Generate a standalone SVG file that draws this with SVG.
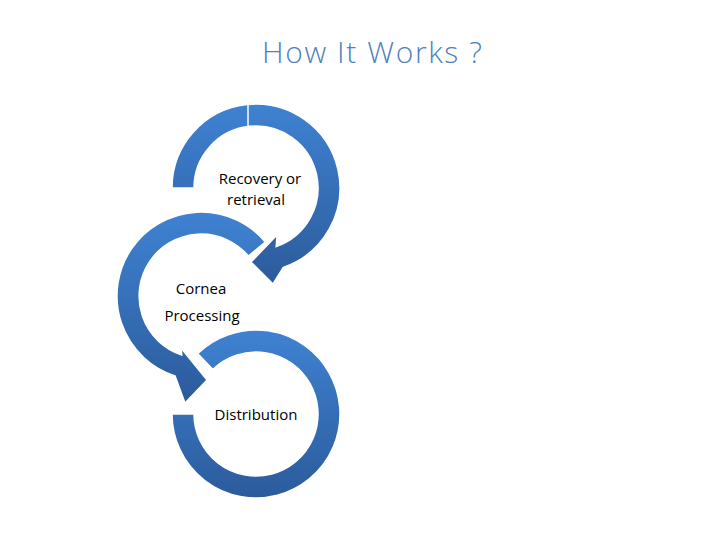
<svg xmlns="http://www.w3.org/2000/svg" width="720" height="540" viewBox="0 0 720 540">
<style>
.ring{stroke:#fff;stroke-width:1.5}
.lbl{font-family:"Open Sans","Liberation Sans",sans-serif;font-size:15px;fill:#000;text-anchor:middle}
</style>
<defs>
<linearGradient id="g1" gradientUnits="userSpaceOnUse" x1="0" y1="104" x2="0" y2="285"><stop offset="0" stop-color="#3f82d2"/><stop offset="1" stop-color="#2b5b9b"/></linearGradient>
<linearGradient id="g2" gradientUnits="userSpaceOnUse" x1="0" y1="212" x2="0" y2="403"><stop offset="0" stop-color="#3f82d2"/><stop offset="1" stop-color="#2b5b9b"/></linearGradient>
<linearGradient id="g3" gradientUnits="userSpaceOnUse" x1="0" y1="330" x2="0" y2="498"><stop offset="0" stop-color="#3f82d2"/><stop offset="1" stop-color="#2b5b9b"/></linearGradient>
</defs>
<rect width="720" height="540" fill="#fff"/>
<text x="372" y="63" font-family="'Open Sans','Liberation Sans',sans-serif" font-size="30" font-weight="300" fill="#4f81bd" text-anchor="middle" textLength="220">How It Works ?</text>
<g id="connectors">
<path id="ring3" class="ring" fill="url(#g3)" d="M172,414 A84,84 0 1 0 197.6,353.6 L212.9,369.4 A62,62 0 1 1 194,414 Z"/>
<path id="ring2" class="ring" fill="url(#g2)" d="M265.3,242 A84,84 0 1 0 175,375.9 L185,403 L207,380 L181,348 L181.8,355 A62,62 0 1 1 248.5,256.1 Z"/>
<path id="ring1" class="ring" fill="url(#g1)" d="M172,188 A84,84 0 1 1 283.3,267.4 L273,284 L251,262 L277,235 L276.2,246.6 A62,62 0 1 0 194,188 Z"/>
<line x1="248" y1="104" x2="248" y2="127" stroke="#fff" stroke-width="1.5"/>
</g>
<g id="recovery"><text class="lbl" x="260" y="184">Recovery or</text><text class="lbl" x="256" y="205">retrieval</text></g>
<g id="cornea"><text class="lbl" x="201" y="294">Cornea</text><text class="lbl" x="202" y="321">Processing</text></g>
<g id="distribution"><text class="lbl" x="256" y="420">Distribution</text></g>
</svg>
